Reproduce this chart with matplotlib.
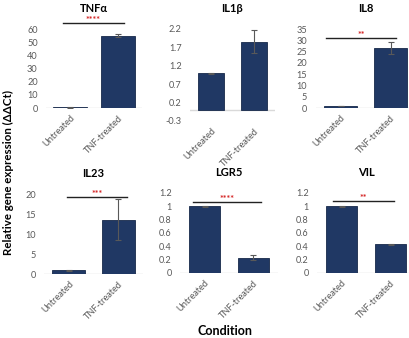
import matplotlib.pyplot as plt
import numpy as np

plt.rcParams["font.family"] = ["Lato", "DejaVu Sans"]

# Relative expression (ddCt) per gene, untreated vs TNF-treated
conditions = ["Untreated", "TNF-treated"]
genes = ["TNFα", "IL1β", "IL8", "IL23", "LGR5", "VIL"]

tnfa_mean = [0.5, 55.0]
tnfa_err = [0.2, 1.2]
il1b_mean = [1.0, 1.86]
il1b_err = [0.01, 0.32]
il8_mean = [0.8, 26.7]
il8_err = [0.1, 2.7]
il23_mean = [0.9, 13.6]
il23_err = [0.05, 5.2]
lgr5_mean = [1.0, 0.23]
lgr5_err = [0.005, 0.04]
vil_mean = [1.0, 0.43]
vil_err = [0.01, 0.003]

means = [tnfa_mean, il1b_mean, il8_mean, il23_mean, lgr5_mean, vil_mean]
errs = [tnfa_err, il1b_err, il8_err, il23_err, lgr5_err, vil_err]

# significance stars and the height of the bracket (None = not significant)
sig_stars = ["****", None, "**", "***", "****", "**"]
sig_height = [64.5, None, 31.0, 19.3, 1.06, 1.08]

# axis ranges / ticks per gene
y_limits = [(0, 60), (-0.3, 2.2), (0, 35), (0, 20), (0, 1.2), (0, 1.2)]
y_ticks = [
    [0, 10, 20, 30, 40, 50, 60],
    [-0.3, 0.2, 0.7, 1.2, 1.7, 2.2],
    [0, 5, 10, 15, 20, 25, 30, 35],
    [0, 5, 10, 15, 20],
    [0, 0.2, 0.4, 0.6, 0.8, 1, 1.2],
    [0, 0.2, 0.4, 0.6, 0.8, 1, 1.2],
]

# panel boxes in pixels: left, right, top, bottom
W, H = 409, 338
boxes = [
    (46, 142, 29, 108),
    (190, 275, 29, 121),
    (315.5, 415.5, 29, 108),
    (44, 143, 194, 274),
    (180, 278, 193, 273),
    (317, 415, 193, 273),
]
bar_widths = [0.69, 0.62, 0.66, 0.66, 0.65, 0.65]
bracket_x = [(-0.15, 1.12), None, (-0.29, 1.11), (-0.04, 1.17), (-0.24, 1.16), (-0.17, 1.07)]

BAR = "#203864"
EDGE = "#17294a"
GREY = "#595959"

fig = plt.figure(figsize=(W / 100, H / 100), dpi=100)

for i, gene in enumerate(genes):
    left, right, top, bottom = boxes[i]
    ax = fig.add_axes([left / W, 1 - bottom / H, (right - left) / W, (bottom - top) / H])
    x = np.arange(len(conditions))
    ax.bar(x, means[i], width=bar_widths[i], color=BAR, edgecolor=EDGE, linewidth=0.6, zorder=2)
    ax.errorbar(x, means[i], yerr=errs[i], fmt="none", ecolor=GREY, elinewidth=0.8,
                capsize=2.5, capthick=0.8, zorder=3)
    ax.axhline(0, color="#d9d9d9", linewidth=1.0, zorder=1)

    ax.set_xlim(-0.5, 1.5)
    ax.set_ylim(*y_limits[i])
    ax.set_yticks(y_ticks[i])
    ax.set_yticklabels([f"{t:g}" for t in y_ticks[i]])
    ax.set_xticks(x)
    ax.set_xticklabels(conditions, rotation=45, ha="right", va="top", rotation_mode="anchor")
    ax.tick_params(axis="both", length=0, labelsize=6.6, labelcolor=GREY)
    ax.tick_params(axis="y", pad=6)
    ax.tick_params(axis="x", pad=4)
    for s in ax.spines.values():
        s.set_visible(False)
    ax.patch.set_alpha(0)

    ax.set_title(gene, fontsize=8, fontweight="bold", pad=12)

    if sig_stars[i]:
        x0, x1 = bracket_x[i]
        h = sig_height[i]
        ax.plot([x0, x1], [h, h], color="#222222", linewidth=1.0, clip_on=False, zorder=4)
        ax.annotate(sig_stars[i], ((x0 + x1) / 2, h), xytext=(0, 1.8), textcoords="offset points",
                    color="#d42020", fontsize=6.5, fontweight="bold", ha="center", va="center",
                    annotation_clip=False, zorder=5)

fig.text(8 / W, 1 - 172 / H, "Relative gene expression (ΔΔCt)", rotation=90,
         ha="center", va="center", fontsize=8.3, fontweight="bold")
fig.text(225 / W, 1 - 331 / H, "Condition", ha="center", va="center",
         fontsize=9, fontweight="bold")

fig.savefig("out.png", dpi=100)
